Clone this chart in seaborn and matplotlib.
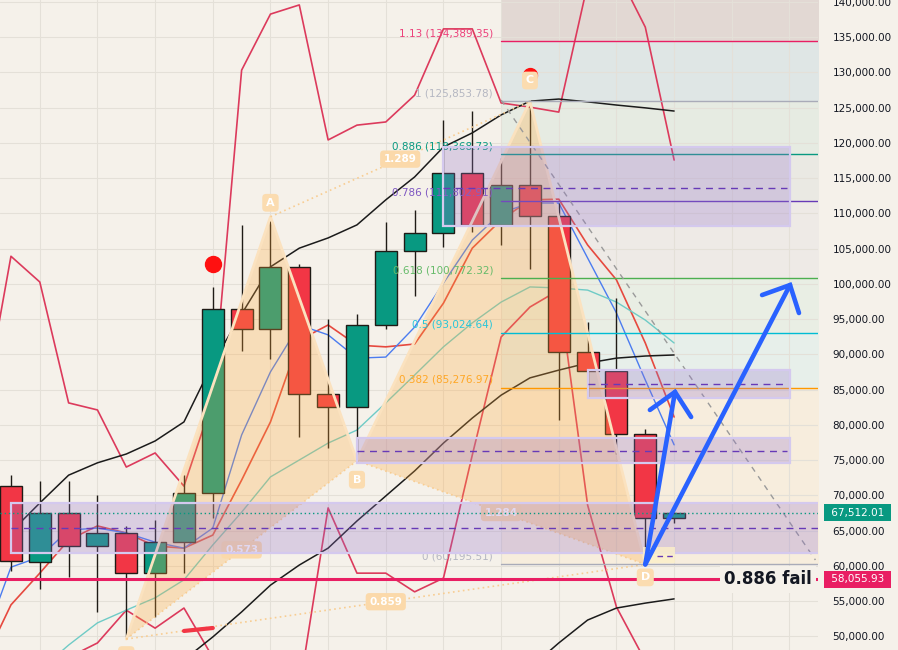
import numpy as np
import matplotlib
matplotlib.use("Agg")
import matplotlib.pyplot as plt
from matplotlib.ticker import FuncFormatter
import seaborn as sns

sns.set_theme(style="white")
plt.rcParams["font.family"] = ["DejaVu Sans"]

BG = "#f5f1ea"
UP = "#089981"
DOWN = "#f23645"
EDGE = "#1f1b16"

# ---- candles (bar index 0..23) ----
opens = [71300, 60600, 67450, 62750, 64600, 58950, 63350, 70300, 96350, 93550, 102350, 84300,
         82500, 94100, 104600, 107150, 115650, 108350, 113950, 109600, 90300, 87600, 78650, 66800]
highs = [72900, 72000, 72000, 70050, 65650, 66500, 72850, 99600, 108350, 109500, 102800, 95000,
         95700, 108750, 110450, 123250, 124500, 117800, 125850, 111450, 94550, 97950, 79350, 67600]
lows = [59300, 56700, 58450, 53500, 49950, 52700, 58950, 66750, 90500, 89350, 78250, 76700,
        74900, 93550, 98300, 105150, 107400, 105500, 102100, 80700, 83800, 75850, 60200, 66100]
closes = [60700, 67500, 62750, 64600, 58950, 63350, 70300, 96350, 93550, 102350, 84300, 82500,
          94100, 104600, 107150, 115650, 108350, 113950, 109600, 90300, 87600, 78650, 66800, 67512.01]

# ---- indicator lines (first bar index, values) ----
upper_band_start = -1
upper_band = [81100, 103900, 100250, 83100, 82100, 74000, 76000, 71300, 83500, 130300, 138250, 139550,
              120400, 122500, 122950, 126750, 136150, 136150, 125650, 125050, 124350, 142500, 144500,
              136400, 117550]
mid_band_start = -1
mid_band = [45900, 54450, 58950, 63650, 65650, 64650, 62800, 62500, 64350, 72150, 80400, 92000, 94150,
            91300, 91050, 91450, 97250, 105050, 109050, 111900, 112000, 105500, 100550, 91600, 81100]
lower_band_start = 0
lower_band = [46000, 45500, 47000, 49050, 53700, 51150, 54000, 47000, 41000, 40000, 42400, 68200,
              58950, 58950, 56300, 58250, 75700, 92450, 96700, 99100, 68600, 54150, 46500]
blue_start = -1
blue_ma = [48600, 59800, 61250, 65050, 65350, 64650, 63350, 62500, 65350, 78550, 87500, 94150, 92750,
           89450, 89600, 93850, 100100, 106200, 110050, 111450, 111450, 103650, 95850, 86350, 77150]
teal_start = 1
teal_ma = [45200, 48750, 51900, 53700, 55450, 58000, 62950, 67600, 72600, 75000, 77400, 79250, 83100,
           87050, 91050, 94450, 97400, 99550, 99400, 99100, 97400, 94850, 91600]
black_fast_start = 0
black_fast = [64800, 68900, 72850, 74600, 75850, 77700, 80400, 88750, 95700, 102400, 105050, 106500,
              108350, 111900, 115150, 119400, 121400, 123950, 125900, 126200, 125800, 125350, 124950,
              124500]
black_mid_start = 6
black_mid = [46650, 49900, 53450, 57250, 60100, 62500, 66350, 69900, 73450, 77400, 80950, 84200,
             86650, 87750, 88750, 89450, 89750, 89900]
black_slow_start = 18
black_slow = [45500, 49050, 52300, 54000, 54700, 55300]

# ---- XABCD pattern ----
pattern_names = ["X", "A", "B", "C", "D"]
pattern_bars = [4, 9, 12, 18, 22]
pattern_prices = [49600, 109500, 74900, 125853.78, 60195.51]
ratio_pairs = [(0, 2), (1, 3), (0, 4), (2, 4)]
ratio_labels = ["0.573", "1.289", "0.859", "1.284"]

# ---- fib retracement C -> D ----
fib_start = 17
fib_ratios = ["1.13", "1", "0.886", "0.786", "0.618", "0.5", "0.382", "0"]
fib_prices = [134389.35, 125853.78, 118368.73, 111802.91, 100772.32, 93024.64, 85276.97, 60195.51]
fib_colors = ["#e91e63", "#a9abb8", "#089981", "#673ab7", "#4caf50", "#00bcd4", "#ff9800", "#a9abb8"]
fib_text_colors = ["#ec407a", "#b5b7c2", "#089981", "#7e57c2", "#66bb6a", "#26c6da", "#ffa726", "#b5b7c2"]
fib_top = 143700
band_colors = ["#e2d8d3", "#dfe6e5", "#e6ebe2", "#eae9e3", "#eeeae6", "#e9eee4", "#e7efea", "#f7eddd"]

# ---- zones (left bar, right bar, low, high, dashed mid) ----
zone_left = [15, 20, 12, 0]
zone_right = [27.02, 27.02, 27.02, 28.5]
zone_low = [108200, 83800, 74580, 61810]
zone_high = [119350, 87770, 78120, 68900]
zone_mid = [113650, 85780, 76280, 65310]

last_price = 67512.01
fail_price = 58055.93

fig = plt.figure(figsize=(8.98, 6.5), dpi=100, facecolor=BG)
ax = fig.add_axes([0, 0, 818 / 898, 1])
ax.set_facecolor(BG)
ax.set_xlim(-0.38, 27.99)
ax.set_ylim(48050, 140250)

# fib background bands
edges = [fib_top] + fib_prices
for hi, lo, c in zip(edges[:-1], edges[1:], band_colors):
    ax.fill_between([fib_start, 28.5], lo, hi, color=c, lw=0, zorder=0.3)

# indicators
def draw_line(start, vals, color, lw=1.1):
    x = np.arange(start, start + len(vals))
    sns.lineplot(x=x, y=vals, ax=ax, color=color, lw=lw, estimator=None, zorder=2)

draw_line(upper_band_start, upper_band, "#dc3a5c", 1.2)
draw_line(lower_band_start, lower_band, "#dc3a5c", 1.2)
draw_line(mid_band_start, mid_band, "#e6493f", 1.2)
draw_line(blue_start, blue_ma, "#4b7cf0", 1.0)
draw_line(teal_start, teal_ma, "#6fcbc6", 1.0)
draw_line(black_fast_start, black_fast, "#1b1b1b", 1.1)
draw_line(black_mid_start, black_mid, "#1b1b1b", 1.1)
draw_line(black_slow_start, black_slow, "#1b1b1b", 1.1)

# candles
idx = np.arange(len(opens))
o, h, l, c = map(np.array, (opens, highs, lows, closes))
colors = np.where(c >= o, UP, DOWN)
ax.vlines(idx, l, h, color=EDGE, lw=1, zorder=2.9)
ax.bar(idx, np.maximum(np.abs(c - o), 120), bottom=np.minimum(o, c), width=0.76,
       color=colors, edgecolor=EDGE, linewidth=1, zorder=3)

# harmonic pattern
px, py = pattern_bars, pattern_prices
ax.fill(px[0:3], py[0:3], color="#ffaa3c", alpha=0.28, lw=0, zorder=4)
ax.fill(px[2:5], py[2:5], color="#ffaa3c", alpha=0.28, lw=0, zorder=4)
ax.plot(px, py, color="#fbe2bf", lw=2, zorder=4.1)
for (a, b), lab in zip(ratio_pairs, ratio_labels):
    ax.plot([px[a], px[b]], [py[a], py[b]], ls=(0, (1, 2)), color="#f8cd92", lw=1.2, zorder=4.1)
    ax.text((px[a] + px[b]) / 2, (py[a] + py[b]) / 2, lab, ha="center", va="center",
            fontsize=7.5, fontweight="bold", color="white", zorder=4.2,
            bbox=dict(boxstyle="round,pad=0.35", fc="#fbd9aa", ec="none"))

# fib lines and labels
for r, p, lc, tc in zip(fib_ratios, fib_prices, fib_colors, fib_text_colors):
    ax.plot([fib_start, 28.5], [p, p], color=lc, lw=1, zorder=4.3)
    ax.annotate(f"{r} ({p:,.2f})", xy=(fib_start, p), xytext=(-8, 3), textcoords="offset pixels",
                ha="right", va="bottom", fontsize=7.5, color=tc, zorder=4.3)

# zones
for x0, x1, lo, hi, mid in zip(zone_left, zone_right, zone_low, zone_high, zone_mid):
    ax.add_patch(plt.Rectangle((x0, lo), x1 - x0, hi - lo, fc="#9575cd", alpha=0.28,
                               ec="none", zorder=4.5))
    ax.add_patch(plt.Rectangle((x0, lo), x1 - x0, hi - lo, fc="none", ec="#d4c9ee",
                               lw=1.6, zorder=4.5))
    ax.plot([x0, x1 - 0.1], [mid, mid], color="#673ab7", lw=1, ls=(0, (5, 4)), zorder=4.6)

# small box near D
ax.add_patch(plt.Rectangle((21.92, 60390), 1.11, 2270, fc="#fdf0c8", alpha=0.8, ec="none", zorder=4.6))
ax.plot([22.4, 22.95], [61380, 61380], color="#673ab7", lw=1, ls=(0, (4, 3)), zorder=4.7)

# diagonal dashed
ax.plot([17.0, 27.9], [126060, 60820], color="#9a9a9a", lw=1, ls=(0, (4, 4)), zorder=4.4)

# price line
ax.axhline(last_price, color=UP, lw=1, ls=(0, (1, 2)), zorder=4.8)

# 0.886 fail line
ax.axhline(fail_price, color="#e91e63", lw=2.2, zorder=5)
ax.text(26.26, fail_price, "0.886 fail", ha="center", va="center", fontsize=12,
        fontweight="bold", color="#131722", zorder=5.5,
        bbox=dict(boxstyle="square,pad=0.25", fc=BG, ec="none"))

# blue arrows
arrow_color = "#2962ff"
ax.plot([22, 23.03], [60195.51, 84650], color=arrow_color, lw=3.3, solid_capstyle="round", zorder=6)
ax.plot([22.16, 23.03, 23.59], [82100, 84650, 81100], color=arrow_color, lw=3.3,
        solid_capstyle="round", solid_joinstyle="miter", zorder=6)
ax.plot([22, 27.02], [60195.51, 99820], color=arrow_color, lw=3.3, solid_capstyle="round", zorder=6)
ax.plot([26.05, 27.02, 27.33], [98400, 99820, 95850], color=arrow_color, lw=3.3,
        solid_capstyle="round", solid_joinstyle="miter", zorder=6)

# markers
ax.plot(7, 102800, "o", color="#ff1010", ms=11.5, zorder=6)
ax.plot(18, 129600, "o", color="#ff1010", ms=10, zorder=6)
ax.plot([6.0, 7.0], [50750, 51170], color=DOWN, lw=3, solid_capstyle="round", zorder=6)

# pattern point labels
label_offsets = [-16, 14, -19, 21, -13]
for name, x, y, off in zip(pattern_names, px, py, label_offsets):
    ax.annotate(name, xy=(x, y), xytext=(0, off), textcoords="offset pixels", ha="center",
                va="center", fontsize=8, fontweight="bold", color="white", zorder=7,
                bbox=dict(boxstyle="round,pad=0.35", fc="#fbdcb0", ec="none"))

# axis styling
ax.set_yticks(np.arange(50000, 140001, 5000))
ax.set_xticks(np.arange(1, 28, 2))
ax.yaxis.set_major_formatter(FuncFormatter(lambda v, _: f"{v:,.2f}"))
ax.yaxis.tick_right()
ax.tick_params(axis="y", length=0, pad=10.5, labelsize=7.5, labelcolor="#131722")
ax.tick_params(axis="x", length=0, labelbottom=False)
ax.grid(True, color="#e4e0d8", lw=0.8)
ax.set_axisbelow(True)
for s in ax.spines.values():
    s.set_visible(False)

# price tags on the axis
for price, col in [(last_price, UP), (fail_price, "#e91e63")]:
    ax.annotate(f" {price:,.2f} ", xy=(1, price), xycoords=ax.get_yaxis_transform(),
                xytext=(10, 0), textcoords="offset pixels", ha="left", va="center",
                fontsize=7.5, color="white", annotation_clip=False, zorder=8,
                bbox=dict(boxstyle="square,pad=0.35", fc=col, ec="none"))

fig.savefig("out.png", dpi=100, facecolor=BG)
